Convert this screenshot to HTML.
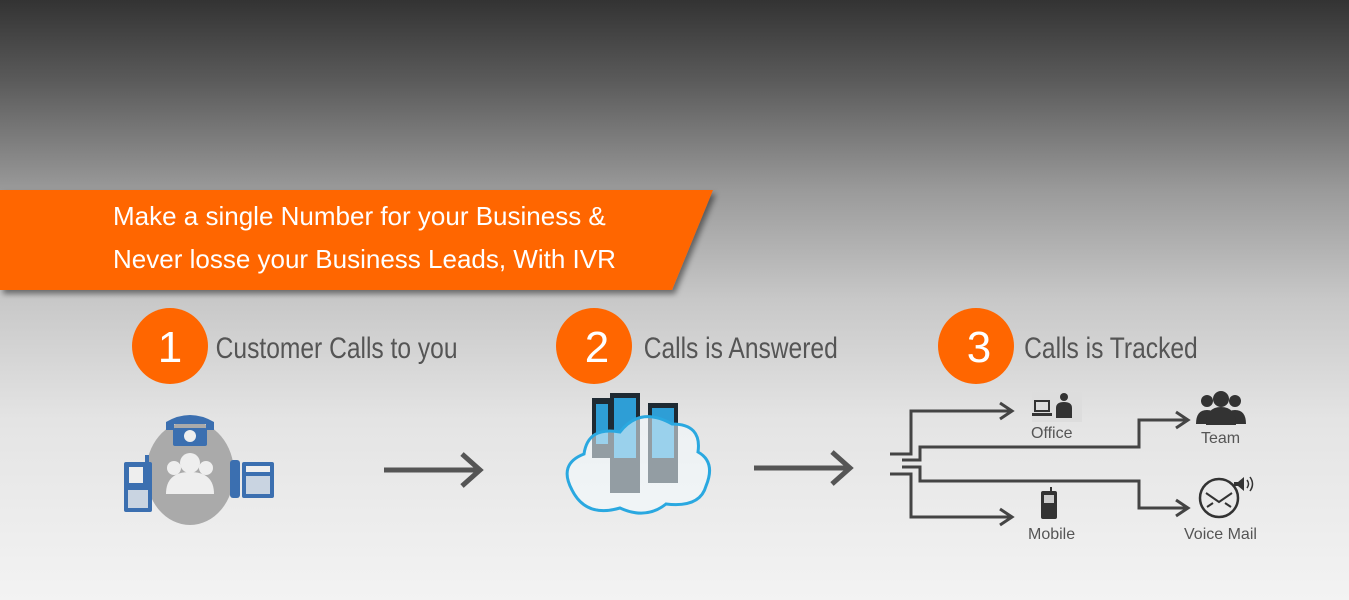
<!DOCTYPE html>
<html><head><meta charset="utf-8"><style>
html,body{margin:0;padding:0;width:1349px;height:600px;overflow:hidden}
body{background:linear-gradient(to bottom,#333 0px,#5a5a5a 80px,#9a9a9a 190px,#c8c8c8 300px,#e4e4e4 420px,#f3f3f3 600px)}
svg{position:absolute;left:0;top:0}
text{font-family:"Liberation Sans",sans-serif}
</style></head><body>
<svg width="1349" height="600" viewBox="0 0 1349 600">
<defs><filter id="sh" x="-5%" y="-20%" width="115%" height="150%"><feDropShadow dx="3" dy="4" stdDeviation="3" flood-color="#000" flood-opacity="0.45"/></filter></defs>
<polygon points="0,190 713,190 672,290 0,290" fill="#ff6600" filter="url(#sh)"/>
<text x="113" y="225" font-size="26" fill="#fff">Make a single Number for your Business &amp;</text>
<text x="113" y="268" font-size="26" fill="#fff">Never losse your Business Leads, With IVR</text>

<g fill="#ff6600"><circle cx="170" cy="346" r="38"/><circle cx="594" cy="346" r="38"/><circle cx="976" cy="346" r="38"/></g>
<g fill="#fff" font-size="44" text-anchor="middle"><text x="170" y="362">1</text><text x="597" y="362">2</text><text x="979" y="362">3</text></g>
<g fill="#555" font-size="30" transform="scale(0.82,1)">
<text x="263" y="358">Customer Calls to you</text>
<text x="785" y="358">Calls is  Answered</text>
<text x="1249" y="358">Calls is  Tracked</text></g>

<!-- step1 icon -->
<ellipse cx="190" cy="473" rx="44" ry="52" fill="#aaa"/>
<g fill="#eee"><circle cx="190" cy="463" r="10"/><path d="M166,494 q0,-22 24,-22 q24,0 24,22z"/><circle cx="174" cy="468" r="7"/><circle cx="206" cy="468" r="7"/></g>
<g fill="#3b6fb0">
<path d="M166,422 q24,-14 48,0 l0,8 -8,0 0,-6 -32,0 0,6 -8,0z"/>
<rect x="173" y="428" width="34" height="18" rx="2"/>
<rect x="124" y="462" width="28" height="50" rx="2"/><rect x="145" y="455" width="4" height="10"/>
<rect x="230" y="460" width="10" height="38" rx="3"/><rect x="242" y="462" width="32" height="36" rx="2"/>
</g>
<circle cx="190" cy="436" r="6" fill="#eee"/>
<rect x="129" y="467" width="14" height="16" fill="#eee"/>
<g fill="#eee"><rect x="128" y="490" width="20" height="18" opacity=".8"/><rect x="246" y="466" width="24" height="6"/><rect x="246" y="476" width="24" height="18" opacity=".8"/></g>

<!-- arrows -->
<g stroke="#555" stroke-width="5" fill="none">
<path d="M384,470 H478 M462,454 L480,470 462,486"/>
<path d="M754,468 H848 M832,452 L850,468 832,484"/>
</g>

<!-- cloud server -->
<g fill="#1e2a33"><rect x="592" y="398" width="20" height="60"/><rect x="610" y="393" width="30" height="100"/><rect x="648" y="403" width="30" height="80"/></g>
<g fill="#2e9ed6"><rect x="614" y="398" width="22" height="60"/><rect x="652" y="408" width="22" height="50"/><rect x="596" y="404" width="12" height="40"/></g>
<path d="M572,490 q-14,-26 12,-36 q4,-28 36,-22 q20,-26 52,-8 q30,0 26,28 q18,10 8,34 q-6,22 -40,18 q-20,16 -46,4 q-34,10 -48,-18z" fill="#f4fbff" fill-opacity="0.55" stroke="#2aa8e0" stroke-width="3"/>

<!-- tracking lines -->
<g stroke="#444" stroke-width="3" fill="none">
<path d="M890,454 H911 V411 H1012 M1000,403 L1012,411 1000,419"/>
<path d="M902,460 H920 V447 H1139 V420 H1188 M1176,412 L1188,420 1176,428"/>
<path d="M902,467 H920 V481 H1139 V508 H1188 M1176,500 L1188,508 1176,516"/>
<path d="M890,474 H911 V517 H1012 M1000,509 L1012,517 1000,525"/>
</g>
<!-- office icon -->
<rect x="1032" y="392" width="50" height="30" fill="#ddd"/>
<rect x="1034" y="400" width="16" height="12" fill="#333"/><rect x="1036" y="402" width="12" height="8" fill="#ddd"/><rect x="1032" y="413" width="20" height="3" fill="#333"/>
<circle cx="1064" cy="397" r="4" fill="#333"/><path d="M1056,418 v-10 q0,-6 8,-6 q8,0 8,6 v10z" fill="#333"/>
<g fill="#555" font-size="16"><text x="1031" y="438">Office</text><text x="1201" y="443">Team</text><text x="1028" y="539">Mobile</text><text x="1184" y="539">Voice Mail</text></g>
<!-- team -->
<g fill="#333"><circle cx="1207" cy="401" r="6"/><circle cx="1235" cy="401" r="6"/><path d="M1196,424 q0,-14 11,-14 q11,0 11,14z M1224,424 q0,-14 11,-14 q11,0 11,14z"/><circle cx="1221" cy="399" r="8"/><path d="M1206,425 q0,-18 15,-18 q15,0 15,18z"/></g>
<!-- mobile -->
<rect x="1041" y="491" width="16" height="28" rx="2" fill="#333"/><rect x="1050" y="487" width="2" height="5" fill="#333"/><rect x="1044" y="495" width="10" height="8" fill="#ccc"/>
<!-- voice mail -->
<circle cx="1219" cy="498" r="19" fill="none" stroke="#333" stroke-width="2.5"/>
<path d="M1206,493 L1219,502 1232,493 M1207,507 l6,-4 M1231,507 l-6,-4" stroke="#333" stroke-width="2" fill="none"/>
<path d="M1234,482 h4 l6,-5 v14 l-6,-5 h-4z" fill="#333"/>
<path d="M1247,480 q3,4 0,8 M1250,477 q5,7 0,14" stroke="#333" stroke-width="1.5" fill="none"/>
</svg>
</body></html>
